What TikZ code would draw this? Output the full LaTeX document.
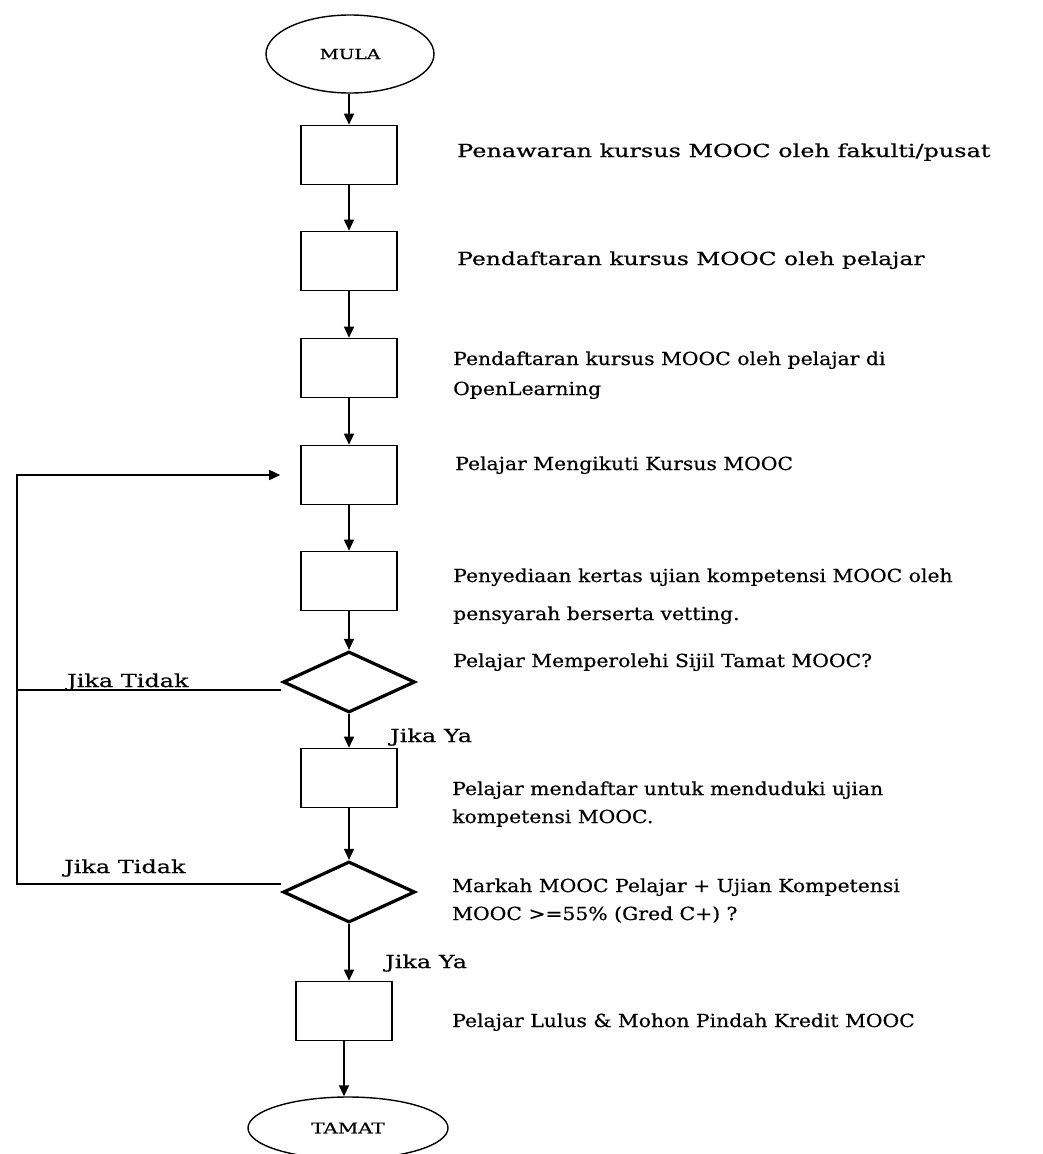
\documentclass[tikz,border=0pt]{standalone}
\usepackage{fontspec}
\setmainfont{DejaVu Serif}[FakeStretch=1.33,FakeBold=0.5]
\newfontfamily\narrowserif{DejaVu Serif}[FakeStretch=1.13,FakeBold=0.5]
\usetikzlibrary{shapes.geometric,arrows.meta,calc}
\tikzset{
	stepbox/.style={draw, line width=1.6pt, minimum width=96pt, minimum height=59pt, inner sep=0pt},
	decision/.style={draw, diamond, line width=3.2pt, minimum width=132pt, minimum height=61pt, inner sep=0pt},
	terminal/.style={draw, ellipse, line width=1.4pt, inner sep=0pt, font=\fontsize{14}{16}\selectfont},
	desc/.style={anchor=base west, align=left, inner sep=0pt, font=\fontsize{18}{28}\selectfont},
	descnarrow/.style={desc, font=\narrowserif\fontsize{18}{28}\selectfont},
	flow/.style={line width=1.6pt, -{Triangle[length=11pt,width=10pt]}},
	link/.style={line width=1.6pt}
}
\begin{document}
\begin{tikzpicture}[x=1pt,y=-1pt]
			%%%%% START %%%%%
			\fill[white] (0,0) rectangle (1043,1154);
			\useasboundingbox (0,0) rectangle (1043,1154);
			
			\node[terminal, minimum width=168pt, minimum height=78pt] (mula) at (350,54) {MULA};
			\node[stepbox] (b1) at (349,155) {};
			\node[stepbox] (b2) at (349,261) {};
			\node[stepbox] (b3) at (349,368) {};
			\node[stepbox] (b4) at (349,475) {};
			\node[stepbox] (b5) at (349,581) {};
			\node[decision] (d1) at (349,682) {};
			\node[stepbox] (b6) at (349,778) {};
			\node[decision] (d2) at (349,892) {};
			\node[stepbox] (b7) at (344,1011) {};
			\node[terminal, minimum width=200pt, minimum height=62pt, font=\fontsize{15}{17}\selectfont] (tamat) at (348,1128) {TAMAT};
			
			\draw[flow] (mula.south -| b1) -- (b1);
			\draw[flow] (b1) -- (b2);
			\draw[flow] (b2) -- (b3);
			\draw[flow] (b3) -- (b4);
			\draw[flow] (b4) -- (b5);
			\draw[flow] (b5) -- (d1);
			\draw[flow] (d1) -- (b6);
			\draw[flow] (b6) -- (d2);
			\draw[flow] (d2.south) -- (d2.south |- b7.north);
			\draw[flow] (b7.south) -- (b7.south |- tamat.north);
			
			% jika tidak: back to b4
			\coordinate (rail) at (17,475);
			\draw[link] ($(d1.west)+(0,8)$) -- ($(d1.west -| rail)+(0,8)$);
			\draw[flow, shorten >=20pt] ($(d2.west)+(0,-8)$) -| (rail) -- (b4.west);
			
			\node[desc] (t1) at (457,157) {Penawaran kursus MOOC oleh fakulti/pusat};
			\node[desc, font=\addfontfeature{FakeStretch=1.3}\fontsize{18}{28}\selectfont] (t2) at (457,265) {Pendaftaran kursus MOOC oleh pelajar};
			\node[descnarrow] (t3) at (453,395) {Pendaftaran kursus MOOC oleh pelajar di\\[2pt]OpenLearning};
			\node[descnarrow] (t4) at (455,470) {Pelajar Mengikuti Kursus MOOC};
			\node[descnarrow] (t5) at (453,620) {Penyediaan kertas ujian kompetensi MOOC oleh\\[10pt]pensyarah berserta vetting.};
			\node[descnarrow] (t6) at (453,667) {Pelajar Memperolehi Sijil Tamat MOOC?};
			\node[descnarrow] (t7) at (452,823) {Pelajar mendaftar untuk menduduki ujian\\kompetensi MOOC.};
			\node[descnarrow] (t8) at (452,920) {Markah MOOC Pelajar + Ujian Kompetensi\\MOOC >=55\% (Gred C+) ?};
			\node[descnarrow] (t9) at (452,1027) {Pelajar Lulus \& Mohon Pindah Kredit MOOC};
			
			\node[desc] (no1) at (67,687) {Jika Tidak};
			\node[desc] (no2) at (64,873) {Jika Tidak};
			\node[desc] (yes1) at (390,742) {Jika Ya};
			\node[desc] (yes2) at (385,968) {Jika Ya};
			%%%%% END %%%%%
\end{tikzpicture}
\end{document}
